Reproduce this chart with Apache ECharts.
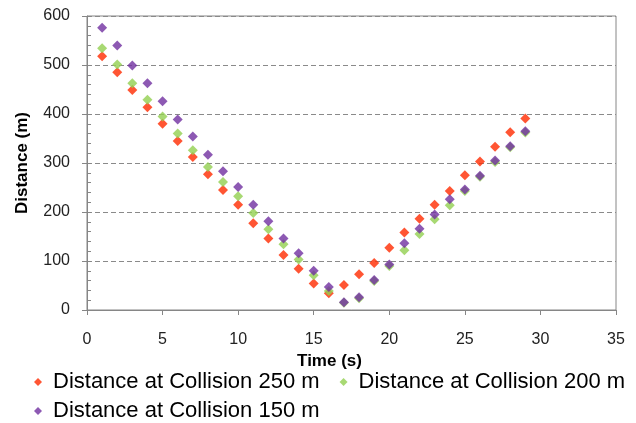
<!DOCTYPE html>
<html>
<head>
<meta charset="utf-8">
<script src="https://cdn.jsdelivr.net/npm/echarts@6/dist/echarts.min.js"></script>
<style>
  html, body { margin: 0; padding: 0; background: #fff; }
  #chart { width: 636px; height: 423px; }
</style>
</head>
<body>
<div id="chart"></div>
<script>
// time in seconds
const times = [1, 2, 3, 4, 5, 6, 7, 8, 9, 10, 11, 12, 13, 14, 15,
  16, 17, 18, 19, 20, 21, 22, 23, 24, 25, 26, 27, 28, 29];

// distance (m)
const dist250 = [518, 485, 449, 414, 380, 345, 312, 277, 245, 215, 177, 146, 112, 84, 54,
  34, 51, 73, 96, 127, 158, 186, 215, 243, 275, 303, 333, 363, 391];
const dist200 = [534, 501, 463, 429, 395, 360, 326, 292, 261, 232, 198, 165, 134, 103, 71,
  39, 15, 24, 59, 90, 122, 155, 185, 214, 243, 272, 302, 332, 362];
const dist150 = [576, 540, 499, 463, 426, 389, 354, 317, 283, 251, 215, 181, 146, 116, 80,
  47, 16, 26, 61, 93, 136, 166, 195, 226, 246, 274, 305, 334, 365];

const seriesNames = ['Distance at Collision 250 m', 'Distance at Collision 200 m', 'Distance at Collision 150 m'];
const colors = ['#ff2a00', '#92d050', '#7030a0'];

const font = 'Liberation Sans';
const gray = '#868686';
const labelColor = '#222';

function pairs(vals) {
  return vals.map((v, i) => [times[i], v]);
}

let chart = echarts.init(document.getElementById('chart'), null, {renderer: 'canvas'});

let legendText = {fontSize: 22, color: '#000', fontFamily: font, padding: [0, 0, 0, 6]};

chart.setOption({
  animation: false,
  textStyle: {fontFamily: font},
  grid: {
    left: 87, right: 20, top: 16, bottom: 113,
    show: true, borderColor: gray, borderWidth: 1
  },
  legend: [{
    data: seriesNames.slice(0, 2),
    left: 34, top: 371, padding: 0,
    icon: 'diamond', itemWidth: 8, itemHeight: 8, itemGap: 20,
    textStyle: legendText
  }, {
    data: seriesNames.slice(2),
    left: 34, top: 400, padding: 0,
    icon: 'diamond', itemWidth: 8, itemHeight: 8,
    textStyle: legendText
  }],
  xAxis: {
    type: 'value', min: 0, max: 35, interval: 5,
    name: 'Time (s)', nameLocation: 'middle', nameGap: 35,
    nameTextStyle: {fontWeight: 'bold', fontSize: 17, color: '#000', padding: [0, 44, 0, 0]},
    axisLine: {lineStyle: {color: gray}},
    axisTick: {length: 5, lineStyle: {color: gray}},
    axisLabel: {margin: 22, fontSize: 16, color: labelColor},
    splitLine: {show: false}
  },
  yAxis: [{
    type: 'value', min: 0, max: 600, interval: 100,
    name: 'Distance (m)', nameLocation: 'middle', nameGap: 56,
    nameTextStyle: {fontWeight: 'bold', fontSize: 17, color: '#000'},
    axisLine: {show: true, lineStyle: {color: gray}},
    axisTick: {show: true, length: 5, lineStyle: {color: gray}},
    axisLabel: {margin: 17, fontSize: 16, color: labelColor},
    splitLine: {lineStyle: {color: '#8a8a8a', type: [5, 3]}}
  }, {
    // minor ticks drawn inside
    type: 'value', min: 0, max: 600, interval: 20, position: 'left', offset: 0,
    axisLine: {show: false},
    axisTick: {show: true, inside: true, length: 4, lineStyle: {color: gray}},
    axisLabel: {show: false},
    splitLine: {show: false}
  }],
  series: [
    {name: seriesNames[0], type: 'scatter', symbol: 'diamond', symbolSize: 10,
      itemStyle: {color: colors[0]}, data: pairs(dist250)},
    {name: seriesNames[1], type: 'scatter', symbol: 'diamond', symbolSize: 10,
      itemStyle: {color: colors[1]}, data: pairs(dist200)},
    {name: seriesNames[2], type: 'scatter', symbol: 'diamond', symbolSize: 10,
      itemStyle: {color: colors[2]}, data: pairs(dist150)}
  ]
});
</script>
</body>
</html>
